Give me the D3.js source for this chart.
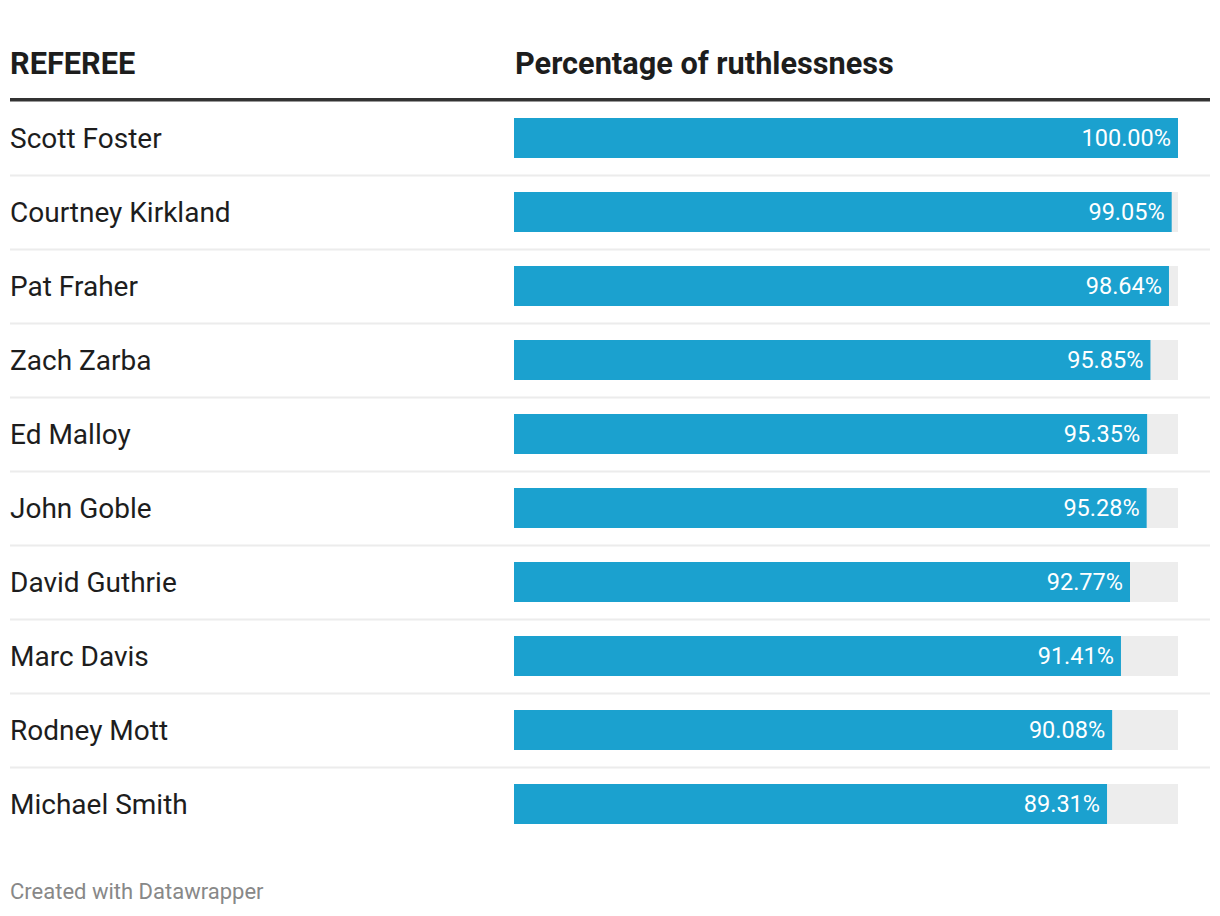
<!DOCTYPE html>
<html><head><meta charset="utf-8">
<script src="https://cdn.jsdelivr.net/npm/d3@7"></script>
<style>body{margin:0;background:#fff;} svg{display:block;font-family:Roboto,sans-serif;}</style>
</head><body>
<svg id="c" width="1220" height="916"></svg>
<script>
const referees = ["Scott Foster","Courtney Kirkland","Pat Fraher","Zach Zarba","Ed Malloy","John Goble","David Guthrie","Marc Davis","Rodney Mott","Michael Smith"];
const ruthlessness = [100.00,99.05,98.64,95.85,95.35,95.28,92.77,91.41,90.08,89.31];
const headers = ["REFEREE","Percentage of ruthlessness"];
const footer = "Created with Datawrapper";

const svg = d3.select("#c");
const x = d3.scaleLinear().domain([0,100]).range([514,1178]);
const y = d3.scaleBand().domain(referees).range([101,841]).paddingInner(0).paddingOuter(0);
const rowH = y.bandwidth(); // 74
const barH = 40;

svg.append("text").attr("x",10).attr("y",74).attr("font-size",30.7).attr("font-weight",700).attr("fill","#1d1d1d").text(headers[0]);
svg.append("text").attr("x",515).attr("y",74).attr("font-size",30.7).attr("font-weight",700).attr("fill","#1d1d1d").text(headers[1]);
svg.append("rect").attr("x",10).attr("y",98).attr("width",1200).attr("height",3.5).attr("fill","#333");

const rows = svg.selectAll("g.row").data(referees.map((r,i)=>({r,v:ruthlessness[i],i}))).join("g").attr("class","row");
rows.filter(d=>d.i<referees.length-1).append("rect")
  .attr("x",10).attr("y",d=>y(d.r)+rowH-0.5).attr("width",1200).attr("height",2).attr("fill","#ececec");
rows.append("text").attr("x",10).attr("y",d=>y(d.r)+17+barH/2).attr("dy","0.35em")
  .attr("font-size",28).attr("fill","#1d1d1d").text(d=>d.r);
rows.append("rect").attr("x",x(0)).attr("y",d=>y(d.r)+17).attr("width",x(100)-x(0)).attr("height",barH).attr("fill","#ededed");
rows.append("rect").attr("x",x(0)).attr("y",d=>y(d.r)+17).attr("width",d=>x(d.v)-x(0)).attr("height",barH).attr("fill","#1ba1cf");
rows.append("text").attr("x",d=>x(d.v)-7).attr("y",d=>y(d.r)+17+barH/2).attr("dy","0.35em")
  .attr("text-anchor","end").attr("font-size",23.5).attr("fill","#fff").text(d=>d.v.toFixed(2)+"%");

svg.append("text").attr("x",10).attr("y",899).attr("font-size",22).attr("fill","#888").text(footer);
</script>
</body></html>
